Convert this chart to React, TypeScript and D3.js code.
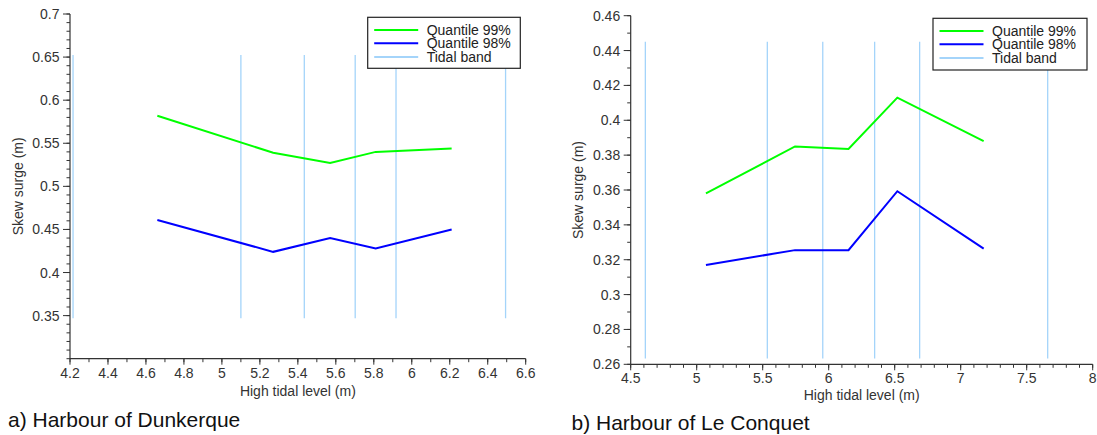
import React from "react";
import * as d3 from "d3";

// ---------- Data ----------
const seriesNames = ["Quantile 99%", "Quantile 98%", "Tidal band"];

// a) Harbour of Dunkerque
const dunkTidalBands = [4.216, 5.1, 5.434, 5.702, 5.917, 6.494];
const dunkBandExtent = [0.347, 0.6525];
const dunkLevels = [4.66, 5.27, 5.57, 5.81, 6.21];
const dunkQ99 = [0.582, 0.539, 0.527, 0.54, 0.544];
const dunkQ98 = [0.461, 0.424, 0.44, 0.428, 0.45];
const dunkXTicks = [4.2, 4.4, 4.6, 4.8, 5, 5.2, 5.4, 5.6, 5.8, 6, 6.2, 6.4, 6.6];
const dunkXTickLabels = ["4.2", "4.4", "4.6", "4.8", "5", "5.2", "5.4", "5.6", "5.8", "6", "6.2", "6.4", "6.6"];
const dunkYTicks = [0.35, 0.4, 0.45, 0.5, 0.55, 0.6, 0.65, 0.7];
const dunkYTickLabels = ["0.35", "0.4", "0.45", "0.5", "0.55", "0.6", "0.65", "0.7"];

// b) Harbour of Le Conquet
const conqTidalBands = [4.611, 5.535, 5.955, 6.348, 6.689, 7.659];
const conqBandExtent = [0.2633, 0.4451];
const conqLevels = [5.07, 5.745, 6.15, 6.52, 7.174];
const conqQ99 = [0.358, 0.385, 0.3835, 0.413, 0.388];
const conqQ98 = [0.317, 0.3255, 0.3255, 0.3593, 0.3264];
const conqXTicks = [4.5, 5, 5.5, 6, 6.5, 7, 7.5, 8];
const conqXTickLabels = ["4.5", "5", "5.5", "6", "6.5", "7", "7.5", "8"];
const conqYTicks = [0.26, 0.28, 0.3, 0.32, 0.34, 0.36, 0.38, 0.4, 0.42, 0.44, 0.46];
const conqYTickLabels = ["0.26", "0.28", "0.3", "0.32", "0.34", "0.36", "0.38", "0.4", "0.42", "0.44", "0.46"];

const captions = ["a) Harbour of Dunkerque", "b) Harbour of Le Conquet"];

// ---------- Styles ----------
const FONT = "'Liberation Sans', Arial, Helvetica, sans-serif";
const AXIS = "#333";
const GREEN = "#00ff00";
const BLUE = "#0000ff";
const BAND = "#a4d4fa";

type PanelProps = {
  xDomain: [number, number];
  yDomain: [number, number];
  xRange: [number, number];
  yRange: [number, number];
  xMinorStep: number;
  yMinorStep: number;
  xTicks: number[];
  xTickLabels: string[];
  yTicks: number[];
  yTickLabels: string[];
  bands: number[];
  bandExtent: number[];
  levels: number[];
  q99: number[];
  q98: number[];
  legend: { x: number; y: number; w: number; h: number };
  yLabelX: number;
  xLabelY: number;
  xTickDy: number;
  caption: string;
  captionX: number;
  captionY: number;
};

function Panel(p: PanelProps) {
  const x = d3.scaleLinear().domain(p.xDomain).range(p.xRange);
  const y = d3.scaleLinear().domain(p.yDomain).range(p.yRange);
  const line = d3
    .line<[number, number]>()
    .x((d) => x(d[0]))
    .y((d) => y(d[1]));
  const q99pts = p.levels.map((l, i) => [l, p.q99[i]] as [number, number]);
  const q98pts = p.levels.map((l, i) => [l, p.q98[i]] as [number, number]);
  const eps = 1e-9;
  const xMinor = d3.range(p.xDomain[0], p.xDomain[1] + eps, p.xMinorStep);
  const yMinor = d3.range(p.yDomain[0], p.yDomain[1] + eps, p.yMinorStep);
  const x0 = p.xRange[0];
  const yb = p.yRange[0];
  const lg = p.legend;
  const legendColors = [GREEN, BLUE, BAND];
  const legendRowY = [12.8, 26, 39.8];
  return (
    <g>
      {/* tidal bands */}
      {p.bands.map((b, i) => (
        <line
          key={"b" + i}
          x1={x(b)}
          x2={x(b)}
          y1={y(p.bandExtent[0])}
          y2={y(p.bandExtent[1])}
          stroke={BAND}
          strokeWidth={1.3}
        />
      ))}
      {/* series */}
      <path d={line(q99pts) || ""} fill="none" stroke={GREEN} strokeWidth={2} />
      <path d={line(q98pts) || ""} fill="none" stroke={BLUE} strokeWidth={2} />
      {/* y axis */}
      <line x1={x0} x2={x0} y1={p.yRange[0]} y2={p.yRange[1]} stroke={AXIS} strokeWidth={1.2} />
      {yMinor.map((v, i) => (
        <line key={"ym" + i} x1={x0 - 3.5} x2={x0} y1={y(v)} y2={y(v)} stroke={AXIS} strokeWidth={1} />
      ))}
      {p.yTicks.map((v, i) => (
        <g key={"yt" + i}>
          <line x1={x0 - 7} x2={x0} y1={y(v)} y2={y(v)} stroke={AXIS} strokeWidth={1} />
          <text
            x={x0 - 10.5}
            y={y(v)}
            dy="0.36em"
            textAnchor="end"
            fontSize={14}
            fill={AXIS}
            fontFamily={FONT}
          >
            {p.yTickLabels[i]}
          </text>
        </g>
      ))}
      {/* x axis */}
      <line x1={p.xRange[0]} x2={p.xRange[1]} y1={yb} y2={yb} stroke={AXIS} strokeWidth={1.2} />
      {xMinor.map((v, i) => (
        <line key={"xm" + i} x1={x(v)} x2={x(v)} y1={yb} y2={yb + 3.5} stroke={AXIS} strokeWidth={1} />
      ))}
      {p.xTicks.map((v, i) => (
        <g key={"xt" + i}>
          <line x1={x(v)} x2={x(v)} y1={yb} y2={yb + 6} stroke={AXIS} strokeWidth={1} />
          <text
            x={x(v)}
            y={yb + p.xTickDy}
            textAnchor="middle"
            fontSize={14}
            fill={AXIS}
            fontFamily={FONT}
          >
            {p.xTickLabels[i]}
          </text>
        </g>
      ))}
      {/* axis labels */}
      <text
        x={(p.xRange[0] + p.xRange[1]) / 2}
        y={p.xLabelY}
        textAnchor="middle"
        fontSize={14}
        fill={AXIS}
        fontFamily={FONT}
      >
        High tidal level (m)
      </text>
      <text
        transform={`translate(${p.yLabelX},${(p.yRange[0] + p.yRange[1]) / 2}) rotate(-90)`}
        textAnchor="middle"
        fontSize={14}
        fill={AXIS}
        fontFamily={FONT}
      >
        Skew surge (m)
      </text>
      {/* legend */}
      <rect x={lg.x} y={lg.y} width={lg.w} height={lg.h} fill="#fff" stroke="#222" strokeWidth={1.2} />
      {seriesNames.map((name, i) => (
        <g key={"lg" + i}>
          <line
            x1={lg.x + 6.5}
            x2={lg.x + 50.5}
            y1={lg.y + legendRowY[i]}
            y2={lg.y + legendRowY[i]}
            stroke={legendColors[i]}
            strokeWidth={2}
          />
          <text
            x={lg.x + 59}
            y={lg.y + legendRowY[i] + 4.5}
            fontSize={14}
            fill="#222"
            fontFamily={FONT}
          >
            {name}
          </text>
        </g>
      ))}
      {/* caption */}
      <text x={p.captionX} y={p.captionY} fontSize={21} fill="#111" fontFamily={FONT}>
        {p.caption}
      </text>
    </g>
  );
}

export default function App() {
  return (
    <svg
      width={1097}
      height={435}
      style={{ position: "absolute", left: 0, top: 0, background: "#fff" }}
    >
      <rect x={0} y={0} width={1097} height={435} fill="#fff" />
      <Panel
        xDomain={[4.2, 6.6]}
        yDomain={[0.3, 0.7]}
        xRange={[70, 525.7]}
        yRange={[358.7, 14]}
        xMinorStep={0.1}
        yMinorStep={0.01}
        xTicks={dunkXTicks}
        xTickLabels={dunkXTickLabels}
        yTicks={dunkYTicks}
        yTickLabels={dunkYTickLabels}
        bands={dunkTidalBands}
        bandExtent={dunkBandExtent}
        levels={dunkLevels}
        q99={dunkQ99}
        q98={dunkQ98}
        legend={{ x: 367.7, y: 17.3, w: 152.6, h: 51 }}
        yLabelX={23}
        xLabelY={395.5}
        xTickDy={19}
        caption={captions[0]}
        captionX={8}
        captionY={427}
      />
      <Panel
        xDomain={[4.5, 8]}
        yDomain={[0.26, 0.46]}
        xRange={[630.7, 1092.7]}
        yRange={[364.3, 15.7]}
        xMinorStep={0.1}
        yMinorStep={0.01}
        xTicks={conqXTicks}
        xTickLabels={conqXTickLabels}
        yTicks={conqYTicks}
        yTickLabels={conqYTickLabels}
        bands={conqTidalBands}
        bandExtent={conqBandExtent}
        levels={conqLevels}
        q99={conqQ99}
        q98={conqQ98}
        legend={{ x: 933, y: 18.3, w: 154, h: 51.7 }}
        yLabelX={583}
        xLabelY={400}
        xTickDy={19}
        caption={captions[1]}
        captionX={571.5}
        captionY={430}
      />
    </svg>
  );
}
